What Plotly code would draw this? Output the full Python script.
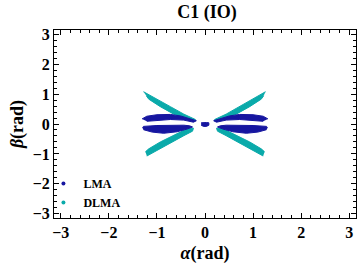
import numpy as np
import plotly.graph_objects as go

# outlines of the point clouds (alpha, beta in rad)
# LMA bands
lma_ul_a = [-1.31, -1.21, -1.00, -0.72, -0.51, -0.31, -0.18, -0.24, -0.44, -0.72, -1.00, -1.21]
lma_ul_b = [0.17, 0.26, 0.31, 0.32, 0.27, 0.18, 0.11, 0.06, 0.13, 0.15, 0.13, 0.09]
lma_ll_a = [-1.30, -1.28, -1.00, -0.72, -0.44, -0.32, -0.26, -0.375, -0.58, -0.86, -1.10, -1.28]
lma_ll_b = [-0.13, -0.08, -0.05, -0.04, -0.04, -0.06, -0.10, -0.17, -0.26, -0.31, -0.27, -0.19]
lma_ur_a = [1.31, 1.21, 1.00, 0.72, 0.51, 0.31, 0.18, 0.24, 0.44, 0.72, 1.00, 1.21]
lma_ur_b = [0.17, 0.26, 0.31, 0.32, 0.27, 0.18, 0.11, 0.06, 0.13, 0.15, 0.13, 0.09]
lma_lr_a = [1.30, 1.28, 1.00, 0.72, 0.44, 0.32, 0.26, 0.375, 0.58, 0.86, 1.10, 1.28]
lma_lr_b = [-0.13, -0.08, -0.05, -0.04, -0.04, -0.06, -0.10, -0.17, -0.26, -0.31, -0.27, -0.19]
lma_c_a = [-0.08, -0.03, 0.03, 0.08, 0.08, 0.03, -0.03, -0.08]
lma_c_b = [0.04, 0.05, 0.05, 0.04, -0.04, -0.08, -0.08, -0.04]

# DLMA arms
dlma_ul_a = [-1.28, -1.00, -0.72, -0.44, -0.20, -0.20, -0.375, -0.65, -0.93, -1.17, -1.22]
dlma_ul_b = [1.08, 0.84, 0.58, 0.33, 0.15, 0.10, 0.16, 0.33, 0.58, 0.83, 0.94]
dlma_ll_a = [-1.24, -1.17, -0.93, -0.65, -0.375, -0.24, -0.26, -0.44, -0.72, -1.00, -1.21]
dlma_ll_b = [-0.93, -0.83, -0.60, -0.37, -0.16, -0.14, -0.24, -0.39, -0.64, -0.89, -1.07]
dlma_ur_a = [1.26, 1.00, 0.72, 0.44, 0.20, 0.20, 0.375, 0.65, 0.93, 1.17, 1.22]
dlma_ur_b = [1.08, 0.84, 0.58, 0.33, 0.15, 0.10, 0.16, 0.33, 0.58, 0.83, 0.94]
dlma_lr_a = [1.24, 1.17, 0.93, 0.65, 0.375, 0.24, 0.26, 0.44, 0.72, 1.00, 1.21]
dlma_lr_b = [-0.93, -0.83, -0.60, -0.37, -0.16, -0.14, -0.24, -0.39, -0.64, -0.89, -1.07]

ticks = [-3, -2, -1, 0, 1, 2, 3]
tick_text = ["\u22123", "\u22122", "\u22121", "0", "1", "2", "3"]

blue = "rgb(22,22,160)"
cyan = "rgb(10,170,170)"
serif = "Liberation Serif, Times New Roman, serif"

fig = go.Figure()

def blob(xs, ys, col):
    fig.add_trace(go.Scatter(x=xs, y=ys, mode="lines", fill="toself",
                             fillcolor=col, line=dict(color=col, width=1),
                             showlegend=False, hoverinfo="skip"))

for xs, ys in [(dlma_ul_a, dlma_ul_b), (dlma_ll_a, dlma_ll_b),
               (dlma_ur_a, dlma_ur_b), (dlma_lr_a, dlma_lr_b)]:
    blob(xs, ys, cyan)
for xs, ys in [(lma_ul_a, lma_ul_b), (lma_ll_a, lma_ll_b),
               (lma_ur_a, lma_ur_b), (lma_lr_a, lma_lr_b), (lma_c_a, lma_c_b)]:
    blob(xs, ys, blue)

# legend-only entries
fig.add_trace(go.Scatter(x=[None], y=[None], mode="markers", name="<b>LMA</b>",
                         marker=dict(color=blue, size=4)))
fig.add_trace(go.Scatter(x=[None], y=[None], mode="markers", name="<b>DLMA</b>",
                         marker=dict(color=cyan, size=4)))

axis_common = dict(
    tickvals=ticks, ticktext=tick_text, ticks="inside", ticklen=5,
    tickcolor="black", tickwidth=1, showline=True, linecolor="black",
    linewidth=1, mirror="ticks", showgrid=False, zeroline=False,
    tickfont=dict(family=serif, size=16, color="black", weight="bold"),
    minor=dict(dtick=0.2, ticks="inside", ticklen=3, tickcolor="black",
               showgrid=False),
)

fig.update_layout(
    width=360, height=271,
    margin=dict(l=54, r=4, t=30, b=53),
    paper_bgcolor="white", plot_bgcolor="white",
    title=dict(text="<b>C1 (IO)</b>", x=0.575, xanchor="center", y=0.955,
               yanchor="middle", font=dict(family=serif, size=18, color="black")),
    legend=dict(x=-0.035, y=0.26, xanchor="left", yanchor="top",
                bgcolor="rgba(0,0,0,0)", tracegroupgap=0, itemwidth=30,
                font=dict(family=serif, size=12, color="black")),
    xaxis=dict(range=[-np.pi, np.pi],
               title=dict(text="<b><i>\u03b1</i>(rad)</b>", standoff=6,
                          font=dict(family=serif, size=18, color="black")),
               **axis_common),
    yaxis=dict(range=[-np.pi, np.pi],
               title=dict(text="<b><i>\u03b2</i>(rad)</b>", standoff=4,
                          font=dict(family=serif, size=18, color="black")),
               **axis_common),
)

fig.write_html("out.html", config={"displayModeBar": False},
               post_script="document.body.style.margin='0px';")
